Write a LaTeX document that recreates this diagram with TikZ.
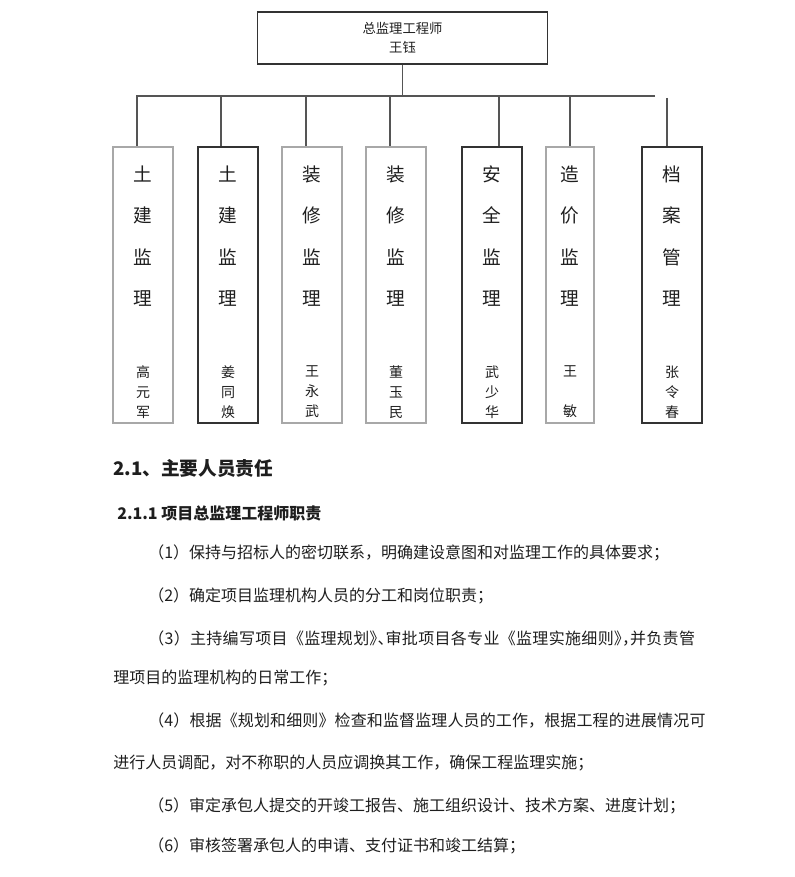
\documentclass[tikz,border=0pt]{standalone}
\usepackage{fontspec}
\setmainfont{Noto Sans CJK SC}
\usepackage{xcolor}
\definecolor{wireGray}{HTML}{555555}
\definecolor{paleFrame}{HTML}{A8A8A8}
\definecolor{darkFrame}{HTML}{333333}
\definecolor{inkBlack}{HTML}{1E1E1E}
\usetikzlibrary{positioning}
\newcommand{\halfp}[1]{{\addfontfeature{RawFeature=+halt}#1}}

\begin{document}
\begin{tikzpicture}[x=0.75pt, y=-0.75pt,
    every node/.style={text=inkBlack},
    chief/.style={draw=darkFrame, line width=0.8pt, minimum width=217.5pt,
                  minimum height=39pt, align=center, inner sep=0pt,
                  font=\fontsize{10}{14.25}\selectfont},
    post/.style={draw=paleFrame, line width=0.8pt, minimum width=45pt,
                 minimum height=207pt, inner sep=0pt},
    postdark/.style={post, draw=darkFrame},
    duty/.style={align=center, inner sep=0pt, font=\fontsize{14}{31}\selectfont},
    who/.style={align=center, inner sep=0pt, font=\fontsize{10.5}{15}\selectfont},
    wire/.style={draw=wireGray, line width=0.8pt},
    head/.style={anchor=west, inner sep=0pt, font=\bfseries\fontsize{14}{16}\selectfont},
    subhead/.style={anchor=west, inner sep=0pt, font=\bfseries\fontsize{12}{14}\selectfont},
    para/.style={anchor=west, inner sep=0pt, font=\fontsize{12}{14}\selectfont}]
  \useasboundingbox (0,0) rectangle (794,877);
  % organisation chart
  \node[chief] (chief) at (402.5,38) {总监理工程师\\王钰};
  \node[post]     (b1) at (143,285) {};
  \node[postdark] (b2) at (228,285) {};
  \node[post]     (b3) at (312,285) {};
  \node[post]     (b4) at (396,285) {};
  \node[postdark] (b5) at (492,285) {};
  \node[post, minimum width=36pt] (b6) at (570,285) {};
  \node[postdark] (b7) at (672,285) {};
  \node[duty] (d1) at (143,236) {土\\建\\监\\理};
  \node[duty] (d2) at (228,236) {土\\建\\监\\理};
  \node[duty] (d3) at (312,236) {装\\修\\监\\理};
  \node[duty] (d4) at (396,236) {装\\修\\监\\理};
  \node[duty] (d5) at (492,236) {安\\全\\监\\理};
  \node[duty] (d6) at (570,236) {造\\价\\监\\理};
  \node[duty] (d7) at (672,236) {档\\案\\管\\理};
  \node[who] (w1) at (143,392) {高\\元\\军};
  \node[who] (w2) at (228,392) {姜\\同\\焕};
  \node[who] (w3) at (312,392) {王\\永\\武};
  \node[who] (w4) at (396,392) {董\\玉\\民};
  \node[who] (w5) at (492,392) {武\\少\\华};
  \node[who] (w6) at (570,392) {王\\[15pt]敏};
  \node[who] (w7) at (672,392) {张\\令\\春};
  \coordinate (barL) at (137,96);
  \coordinate (barR) at (655,96);
  \coordinate (t2) at (221,96);
  \coordinate (t3) at (306,96);
  \coordinate (t4) at (390,96);
  \coordinate (t5) at (499,96);
  \coordinate (t6) at (570,96);
  \coordinate (t7) at (667,98);
  \draw[wire] (chief.south) -- (chief.south |- barL);
  \draw[wire] (barR) -- (barL) -- (barL |- b1.north);
  \draw[wire] (t2) -- (t2 |- b2.north);
  \draw[wire] (t3) -- (t3 |- b3.north);
  \draw[wire] (t4) -- (t4 |- b4.north);
  \draw[wire] (t5) -- (t5 |- b5.north);
  \draw[wire] (t6) -- (t6 |- b6.north);
  \draw[wire] (t7) -- (t7 |- b7.north);
  % text below
  \node[head] (h1) at (113,468) {2.1、主要人员责任};
  \node[subhead] (h2) at (117,513) {2.1.1 项目总监理工程师职责};
  \node[para] (p1) at (148,553) {（1）保持与招标人的密切联系，明确建设意图和对监理工作的具体要求；};
  \node[para] (p2) at (148,596) {（2）确定项目监理机构人员的分工和岗位职责；};
  \node[para] (p3) at (148,639) {\addfontfeature{LetterSpace=2}（3）主持编写项目《监理规划\halfp{》、}审批项目各专业《监理实施细则\halfp{》，}并负责管};
  \node[para] (p3b) at (113,678) {理项目的监理机构的日常工作；};
  \node[para] (p4) at (148,720) {\addfontfeature{LetterSpace=0.8}（4）根据《规划和细则》检查和监督监理人员的工作，根据工程的进展情况可};
  \node[para] (p4b) at (113,763) {进行人员调配，对不称职的人员应调换其工作，确保工程监理实施；};
  \node[para] (p5) at (148,806) {（5）审定承包人提交的开竣工报告、施工组织设计、技术方案、进度计划；};
  \node[para] (p6) at (148,846) {（6）审核签署承包人的申请、支付证书和竣工结算；};
\end{tikzpicture}
\end{document}
